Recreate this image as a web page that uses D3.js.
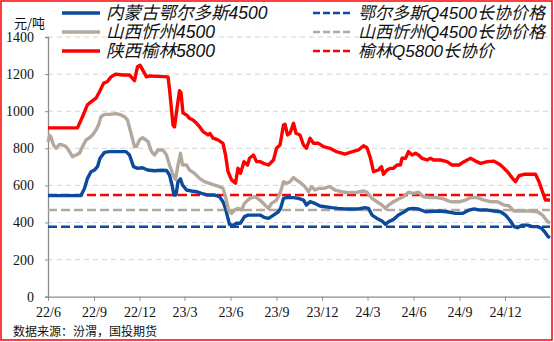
<!DOCTYPE html>
<html>
<head>
<meta charset="utf-8">
<script src="https://cdn.jsdelivr.net/npm/d3@7"></script>
<style>
  html, body { margin: 0; padding: 0; background: #fff; }
  svg { display: block; }
</style>
</head>
<body>
<svg id="chart" width="554" height="342"></svg>
<script>
// Thermal coal pit-head prices (元/吨) with long-term contract reference levels
const innerMongoliaDates = ["2022-06-01","2022-08-06","2022-08-13","2022-08-19","2022-08-26","2022-09-02","2022-09-08","2022-09-13","2022-09-22","2022-10-02","2022-11-04","2022-11-11","2022-11-19","2022-11-27","2022-12-07","2022-12-17","2022-12-31","2023-01-14","2023-01-24","2023-01-30","2023-02-04","2023-02-08","2023-02-12","2023-02-16","2023-02-21","2023-02-25","2023-03-05","2023-03-15","2023-03-25","2023-04-04","2023-04-17","2023-04-30","2023-05-10","2023-05-17","2023-05-22","2023-05-26","2023-05-30","2023-06-06","2023-06-13","2023-06-21","2023-06-29","2023-07-06","2023-07-20","2023-07-30","2023-08-09","2023-08-16","2023-08-26","2023-09-05","2023-09-09","2023-09-15","2023-09-21","2023-10-05","2023-10-15","2023-10-25","2023-10-31","2023-11-07","2023-11-17","2023-11-27","2023-12-07","2023-12-20","2024-01-02","2024-01-16","2024-02-12","2024-02-25","2024-03-03","2024-03-10","2024-03-20","2024-03-30","2024-04-06","2024-04-12","2024-04-22","2024-05-02","2024-05-12","2024-05-22","2024-06-01","2024-06-11","2024-06-25","2024-07-21","2024-08-07","2024-08-24","2024-09-07","2024-09-20","2024-09-30","2024-10-13","2024-10-27","2024-11-09","2024-11-22","2024-12-02","2024-12-12","2024-12-19","2024-12-26","2025-01-05","2025-01-15","2025-01-25","2025-02-04","2025-02-12","2025-02-18","2025-02-25","2025-03-01"];
const innerMongoliaValues = [545,545,584,638,674,683,701,746,778,782,782,764,701,692,695,683,679,682,680,656,602,548,548,620,635,602,575,570,566,557,548,548,539,512,476,432,390,383,396,396,432,440,440,440,426,422,440,458,476,530,534,534,530,521,494,512,503,489,485,480,476,473,473,480,476,440,422,408,390,404,417,440,455,473,476,473,458,462,458,449,449,467,473,467,467,462,458,440,408,378,372,386,386,378,378,369,351,324,318];

const shanxiDates = ["2022-06-01","2022-06-04","2022-06-07","2022-06-12","2022-06-17","2022-06-24","2022-06-30","2022-07-07","2022-07-14","2022-07-20","2022-07-27","2022-08-03","2022-08-09","2022-08-16","2022-08-23","2022-08-29","2022-09-05","2022-09-10","2022-09-15","2022-09-22","2022-10-03","2022-10-15","2022-10-25","2022-11-01","2022-11-07","2022-11-14","2022-11-21","2022-11-25","2022-12-01","2022-12-07","2022-12-14","2022-12-18","2022-12-25","2022-12-31","2023-01-07","2023-01-17","2023-01-24","2023-01-30","2023-02-06","2023-02-11","2023-02-16","2023-02-21","2023-02-25","2023-03-05","2023-03-11","2023-03-21","2023-03-31","2023-04-10","2023-04-20","2023-04-30","2023-05-10","2023-05-17","2023-05-22","2023-05-28","2023-06-03","2023-06-09","2023-06-16","2023-06-23","2023-06-29","2023-07-06","2023-07-10","2023-07-20","2023-07-30","2023-08-09","2023-08-16","2023-08-22","2023-09-01","2023-09-08","2023-09-15","2023-09-21","2023-09-28","2023-10-05","2023-10-11","2023-10-21","2023-10-28","2023-11-04","2023-11-10","2023-11-17","2023-11-24","2023-12-04","2023-12-17","2023-12-27","2024-01-09","2024-01-23","2024-02-09","2024-02-22","2024-02-29","2024-03-10","2024-03-20","2024-03-30","2024-04-06","2024-04-12","2024-04-22","2024-05-02","2024-05-12","2024-05-22","2024-06-01","2024-06-11","2024-06-21","2024-07-05","2024-07-18","2024-07-31","2024-08-14","2024-09-02","2024-09-13","2024-09-23","2024-10-07","2024-10-20","2024-11-02","2024-11-16","2024-11-29","2024-12-09","2024-12-19","2025-01-21","2025-02-04","2025-02-14","2025-02-24","2025-03-01"];
const shanxiValues = [835,870,860,818,800,821,818,809,782,755,764,773,809,845,857,872,899,926,970,983,983,987,980,970,953,881,809,809,845,857,845,836,782,764,791,791,764,710,656,632,710,773,710,710,683,665,638,620,611,602,593,584,539,467,449,467,476,467,503,521,530,539,521,494,476,503,521,557,620,611,620,642,629,611,593,566,593,575,584,584,593,575,566,561,563,570,563,530,512,494,476,494,512,527,539,563,557,563,539,534,534,527,512,512,521,534,534,521,512,512,494,490,462,462,458,440,405,396];

const yulinDates = ["2022-06-01","2022-07-30","2022-08-09","2022-08-19","2022-08-26","2022-09-05","2022-09-12","2022-09-20","2022-09-28","2022-10-05","2022-10-15","2022-10-28","2022-11-11","2022-11-21","2022-11-27","2022-12-02","2022-12-15","2022-12-22","2023-01-07","2023-01-27","2023-01-30","2023-02-06","2023-02-09","2023-02-15","2023-02-19","2023-02-22","2023-02-26","2023-03-05","2023-03-11","2023-03-18","2023-03-25","2023-03-31","2023-04-07","2023-04-17","2023-04-21","2023-04-27","2023-05-07","2023-05-17","2023-05-22","2023-05-27","2023-06-03","2023-06-11","2023-06-16","2023-06-21","2023-06-28","2023-07-05","2023-07-09","2023-07-17","2023-07-23","2023-07-30","2023-08-06","2023-08-16","2023-08-26","2023-09-01","2023-09-08","2023-09-15","2023-09-18","2023-09-23","2023-09-28","2023-10-05","2023-10-10","2023-10-18","2023-10-25","2023-10-31","2023-11-07","2023-11-14","2023-11-24","2023-12-04","2023-12-17","2023-12-30","2024-01-16","2024-01-26","2024-02-12","2024-02-22","2024-02-29","2024-03-07","2024-03-13","2024-03-23","2024-03-29","2024-04-02","2024-04-09","2024-04-16","2024-04-22","2024-04-29","2024-05-06","2024-05-09","2024-05-16","2024-05-22","2024-05-29","2024-06-05","2024-06-11","2024-06-18","2024-06-28","2024-07-05","2024-07-11","2024-07-25","2024-08-07","2024-08-17","2024-08-31","2024-09-10","2024-09-23","2024-10-03","2024-10-13","2024-10-27","2024-11-09","2024-11-22","2024-12-06","2024-12-16","2024-12-22","2024-12-29","2025-01-08","2025-01-31","2025-02-07","2025-02-14","2025-02-20","2025-03-01"];
const yulinValues = [910,910,970,1035,1050,1070,1105,1150,1160,1185,1200,1195,1195,1165,1240,1248,1185,1190,1188,1185,1120,925,915,1035,1110,1100,990,980,962,953,935,917,890,872,880,855,845,827,765,675,630,612,692,665,728,710,746,764,728,728,719,710,737,800,818,926,930,872,881,935,881,872,818,800,854,827,827,809,800,782,769,778,791,814,803,746,674,683,701,660,683,692,692,710,710,746,746,782,764,773,764,746,737,746,737,737,728,710,710,728,746,731,719,728,731,710,674,638,620,652,660,660,620,566,521,521];

// Long-term contract reference prices
const contractNames = ["鄂尔多斯Q4500长协价格", "山西忻州Q4500长协价格", "榆林Q5800长协价"];
const contractValues = [377, 467, 548];

const seriesNames = ["内蒙古鄂尔多斯4500", "山西忻州4500", "陕西榆林5800"];
const seriesColors = ["#0b4a9c", "#b4a89c", "#ff0000"];

const xTickDates = ["2022-06-01","2022-09-01","2022-12-01","2023-03-01","2023-06-01","2023-09-01","2023-12-01","2024-03-01","2024-06-01","2024-09-01","2024-12-01"];
const xTickLabels = ["22/6","22/9","22/12","23/3","23/6","23/9","23/12","24/3","24/6","24/9","24/12"];
const yTicks = [0, 200, 400, 600, 800, 1000, 1200, 1400];

const unitLabel = "元/吨";
const sourceNote = "数据来源：汾渭，国投期货";

const parse = d3.timeParse("%Y-%m-%d");
const svg = d3.select("#chart");
const serifFont = "'Liberation Serif', 'Times New Roman', serif";

const plot = { left: 48, right: 550, top: 37, bottom: 296.7 };

const x = d3.scaleTime()
  .domain([parse("2022-06-01"), parse("2025-03-01")])
  .range([plot.left, plot.right]);
const y = d3.scaleLinear().domain([0, 1400]).range([plot.bottom, plot.top]);

// Outer frame
svg.append("rect")
  .attr("x", 1).attr("y", 1).attr("width", 551).attr("height", 339)
  .attr("fill", "none").attr("stroke", "#ff0000").attr("stroke-width", 1.5);

// Horizontal gridlines
svg.append("g")
  .selectAll("line")
  .data(yTicks.filter(v => v > 0))
  .join("line")
  .attr("x1", plot.left).attr("x2", plot.right)
  .attr("y1", d => y(d)).attr("y2", d => y(d))
  .attr("stroke", "#d4d4d4").attr("stroke-width", 1)
  .attr("stroke-dasharray", "5,4");

// Y axis
const yAxis = svg.append("g")
  .attr("transform", `translate(${plot.left},0)`)
  .call(d3.axisLeft(y).tickValues(yTicks).tickFormat(d3.format("d"))
    .tickSize(3).tickPadding(11));
yAxis.select(".domain").attr("stroke", "#8c8c8c").attr("stroke-width", 1.3);
yAxis.selectAll(".tick line").attr("stroke", "#8c8c8c");
yAxis.selectAll(".tick text")
  .style("font-family", serifFont)
  .style("font-size", "14px").attr("fill", "#111");

// X axis
const xAxis = svg.append("g")
  .attr("transform", `translate(0,${plot.bottom})`)
  .call(d3.axisBottom(x)
    .tickValues(xTickDates.map(parse))
    .tickFormat((d, i) => xTickLabels[i])
    .tickSize(4).tickPadding(6).tickSizeOuter(0));
xAxis.select(".domain").attr("stroke", "#8c8c8c").attr("stroke-width", 1.3);
xAxis.selectAll(".tick line").attr("stroke", "#8c8c8c");
xAxis.selectAll(".tick text")
  .style("font-family", serifFont)
  .style("font-size", "14px").attr("fill", "#111");

// Contract reference lines
svg.append("g")
  .selectAll("line")
  .data(contractValues)
  .join("line")
  .attr("x1", plot.left).attr("x2", plot.right)
  .attr("y1", d => y(d)).attr("y2", d => y(d))
  .attr("stroke", (d, i) => seriesColors[i])
  .attr("stroke-width", 2.6)
  .attr("stroke-dasharray", "9,4");

// Price series
const series = [
  { dates: innerMongoliaDates, values: innerMongoliaValues },
  { dates: shanxiDates, values: shanxiValues },
  { dates: yulinDates, values: yulinValues }
];
const line = d3.line().x(d => x(d[0])).y(d => y(d[1]));
series.forEach((s, i) => {
  const pts = s.dates.map((d, j) => [parse(d), s.values[j]]);
  svg.append("path")
    .datum(pts)
    .attr("d", line)
    .attr("fill", "none")
    .attr("stroke", seriesColors[i])
    .attr("stroke-width", 3.4)
    .attr("stroke-linejoin", "round");
});

// Legend
const legendFont = "'Liberation Sans', 'Noto Sans CJK SC', sans-serif";
const rowY = [13, 32, 51];
const legend = svg.append("g");
seriesNames.forEach((name, i) => {
  legend.append("line")
    .attr("x1", 62).attr("x2", 100).attr("y1", rowY[i]).attr("y2", rowY[i])
    .attr("stroke", seriesColors[i]).attr("stroke-width", 3.6);
  legend.append("text")
    .attr("x", 106).attr("y", rowY[i]).attr("dy", "0.36em")
    .style("font-family", legendFont).style("font-size", "17.5px")
    .style("font-style", "italic").attr("fill", "#111")
    .text(name);
});
contractNames.forEach((name, i) => {
  legend.append("line")
    .attr("x1", 313).attr("x2", 353).attr("y1", rowY[i]).attr("y2", rowY[i])
    .attr("stroke", seriesColors[i]).attr("stroke-width", 2.6)
    .attr("stroke-dasharray", "7,3");
  legend.append("text")
    .attr("x", 358).attr("y", rowY[i]).attr("dy", "0.36em")
    .style("font-family", legendFont).style("font-size", "17px")
    .style("font-style", "italic").attr("fill", "#111")
    .text(name);
});

// Unit label and source note
svg.append("text")
  .attr("x", 14).attr("y", 28)
  .style("font-family", "'Noto Sans CJK SC', sans-serif")
  .style("font-size", "13px").attr("fill", "#111")
  .text(unitLabel);
svg.append("text")
  .attr("x", 13).attr("y", 336)
  .style("font-family", "'Noto Sans CJK SC', sans-serif")
  .style("font-size", "12px").attr("fill", "#111")
  .text(sourceNote);
</script>
</body>
</html>
